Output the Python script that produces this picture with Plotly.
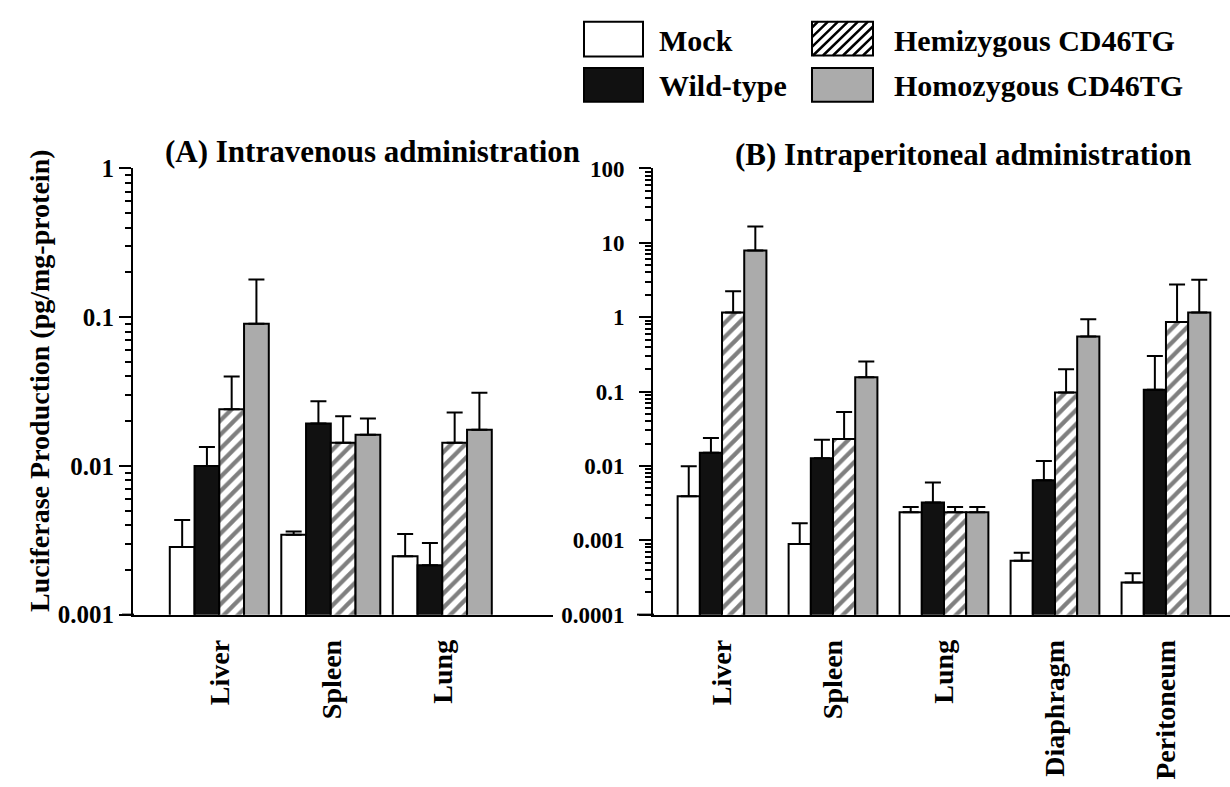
import numpy as np
import plotly.graph_objects as go

# ---------------- data ----------------
series_names = ["Mock", "Wild-type", "Hemizygous CD46TG", "Homozygous CD46TG"]

organs_iv = ["Liver", "Spleen", "Lung"]
iv_mock = [0.00285, 0.00345, 0.00247]
iv_mock_upper = [0.00432, 0.00362, 0.00349]
iv_wt = [0.0100, 0.0193, 0.00215]
iv_wt_upper = [0.0134, 0.0272, 0.00303]
iv_hemi = [0.0240, 0.0143, 0.0143]
iv_hemi_upper = [0.0399, 0.0216, 0.0229]
iv_homo = [0.0905, 0.0162, 0.0175]
iv_homo_upper = [0.179, 0.0208, 0.0310]

organs_ip = ["Liver", "Spleen", "Lung", "Diaphragm", "Peritoneum"]
ip_mock = [0.0039, 0.00089, 0.00238, 0.00053, 0.00027]
ip_mock_upper = [0.0099, 0.0017, 0.0028, 0.00068, 0.00036]
ip_wt = [0.0150, 0.0127, 0.00321, 0.0064, 0.106]
ip_wt_upper = [0.0237, 0.0224, 0.0060, 0.0116, 0.30]
ip_hemi = [1.16, 0.0231, 0.00238, 0.097, 0.86]
ip_hemi_upper = [2.24, 0.0533, 0.0028, 0.199, 2.76]
ip_homo = [7.9, 0.156, 0.00238, 0.55, 1.16]
ip_homo_upper = [16.6, 0.253, 0.0028, 0.94, 3.2]

iv_ticks = [0.001, 0.01, 0.1, 1]
iv_ticktext = ["0.001", "0.01", "0.1", "1"]
ip_ticks = [0.0001, 0.001, 0.01, 0.1, 1, 10, 100]
ip_ticktext = ["0.0001", "0.001", "0.01", "0.1", "1", "10", "100"]

# ---------------- styles ----------------
W, H = 1230, 787
FONT = "Liberation Serif"
GRAY = "#ababab"

def px(x):
    return x / W

def py(y):
    return 1 - y / H

styles = [
    dict(color="white", pattern=None),
    dict(color="#111111", pattern=None),
    dict(color="white", pattern=dict(shape="/", fgcolor="black", bgcolor="white", size=10, solidity=0.42)),
    dict(color=GRAY, pattern=None),
]

fig = go.Figure()

def add_panel(cats, vals, uppers, xa, ya, width, offsets):
    for i, (v, u) in enumerate(zip(vals, uppers)):
        v = np.array(v)
        u = np.array(u)
        st = styles[i]
        marker = dict(color=st["color"], line=dict(color="black", width=2))
        if st["pattern"]:
            marker["pattern"] = st["pattern"]
        fig.add_trace(go.Bar(
            x=cats, y=v, name=series_names[i], showlegend=False,
            xaxis=xa, yaxis=ya, width=width, offset=offsets[i],
            marker=marker,
            error_y=dict(type="data", symmetric=False, array=u - v,
                         arrayminus=np.zeros(len(v)), color="black",
                         thickness=2, width=8),
        ))

add_panel(organs_iv, [iv_mock, iv_wt, iv_hemi, iv_homo],
          [iv_mock_upper, iv_wt_upper, iv_hemi_upper, iv_homo_upper],
          "x", "y", 0.222, [-0.45, -0.228, -0.006, 0.216])
add_panel(organs_ip, [ip_mock, ip_wt, ip_hemi, ip_homo],
          [ip_mock_upper, ip_wt_upper, ip_hemi_upper, ip_homo_upper],
          "x2", "y2", 0.2, [-0.4, -0.2, 0.0, 0.2])

def minor_vals(lo, hi):
    out = []
    for e in range(lo, hi):
        for m in range(2, 10):
            out.append(m * 10.0 ** e)
    return out

ydom = [py(623), py(161)]
common_x = dict(showline=True, linecolor="black", linewidth=2, ticks="",
                tickangle=-90, tickfont=dict(family=FONT, size=28, color="black", weight="bold"),
                ticklabelstandoff=12, showgrid=False, zeroline=False, type="category")
common_y = dict(type="log", showline=True, linecolor="black", linewidth=2,
                ticks="outside", ticklen=12, tickwidth=2, tickcolor="black",
                showgrid=False, zeroline=False)

fig.update_layout(
    width=W, height=H,
    margin=dict(l=0, r=0, t=0, b=0),
    paper_bgcolor="white", plot_bgcolor="white",
    barmode="overlay",
    font=dict(family=FONT, color="black"),
    xaxis=dict(domain=[px(133), px(553)], range=[-0.78, 2.987], anchor="y", **common_x),
    yaxis=dict(domain=ydom, range=[-3, 0], anchor="x",
               tickvals=iv_ticks, ticktext=iv_ticktext,
               tickfont=dict(family=FONT, size=25, color="black", weight="bold"),
               minor=dict(tickvals=minor_vals(-3, 0), ticks="outside", ticklen=6,
                          tickwidth=1.5, tickcolor="black"),
               **common_y),
    xaxis2=dict(domain=[px(653), 1.0], range=[-0.622, 4.577], anchor="y2", **common_x),
    yaxis2=dict(domain=ydom, range=[-4, 2], anchor="x2",
                tickvals=ip_ticks, ticktext=ip_ticktext,
                tickfont=dict(family=FONT, size=23, color="black", weight="bold"),
                ticklabelstandoff=10,
                minor=dict(tickvals=minor_vals(-4, 2), ticks="outside", ticklen=6,
                           tickwidth=1.5, tickcolor="black"),
                **common_y),
)

shapes = []
# baseline extension left of y axes
shapes.append(dict(type="line", xref="paper", yref="paper", x0=px(122), x1=px(134), y0=py(623), y1=py(623),
                   line=dict(color="black", width=2)))
shapes.append(dict(type="line", xref="paper", yref="paper", x0=px(637), x1=px(654), y0=py(623), y1=py(623),
                   line=dict(color="black", width=2)))

# custom legend boxes
boxes = [(584, 9, 643, 45), (584, 57, 643, 92), (812, 9, 873, 44), (812, 57, 873, 92)]
fills = ["white", "#111111", "white", GRAY]
for (x0, y0, x1, y1), f in zip(boxes, fills):
    shapes.append(dict(type="rect", xref="paper", yref="paper",
                       x0=px(x0), x1=px(x1), y0=py(y1), y1=py(y0),
                       fillcolor=f, line=dict(color="black", width=2), layer="above"))

# hatch lines in the hemizygous legend box
x0, y0, x1, y1 = boxes[2]
path = ""
k = x0 + y0 + 6
while k < x1 + y1:
    xa = max(x0, k - y1)
    xb = min(x1, k - y0)
    if xb > xa:
        path += f"M{px(xa):.5f},{py(k - xa):.5f} L{px(xb):.5f},{py(k - xb):.5f} "
    k += 10
shapes.append(dict(type="path", xref="paper", yref="paper", path=path,
                   line=dict(color="black", width=2.5), layer="above"))
fig.update_layout(shapes=shapes)

ann = []
legend_text = [(657, 28, series_names[0]), (657, 75, series_names[1]),
               (892, 28, series_names[2]), (892, 75, series_names[3])]
for x, y, t in legend_text:
    ann.append(dict(x=px(x), y=py(y), xref="paper", yref="paper", text=t, showarrow=False,
                    xanchor="left", yanchor="middle",
                    font=dict(family=FONT, size=30, color="black", weight="bold")))
ann.append(dict(x=px(372), y=py(143), xref="paper", yref="paper",
                text="(A) Intravenous administration", showarrow=False,
                xanchor="center", yanchor="middle",
                font=dict(family=FONT, size=31, color="black", weight="bold")))
ann.append(dict(x=px(963), y=py(147), xref="paper", yref="paper",
                text="(B) Intraperitoneal administration", showarrow=False,
                xanchor="center", yanchor="middle",
                font=dict(family=FONT, size=31, color="black", weight="bold")))
ann.append(dict(x=px(40), y=py(381), xref="paper", yref="paper",
                text="Luciferase Production (pg/mg-protein)", showarrow=False,
                textangle=-90, xanchor="center", yanchor="middle",
                font=dict(family=FONT, size=28, color="black", weight="bold")))
fig.update_layout(annotations=ann)

fig.write_html("out.html", config={"displayModeBar": False},
               post_script="document.body.style.margin='0';")
